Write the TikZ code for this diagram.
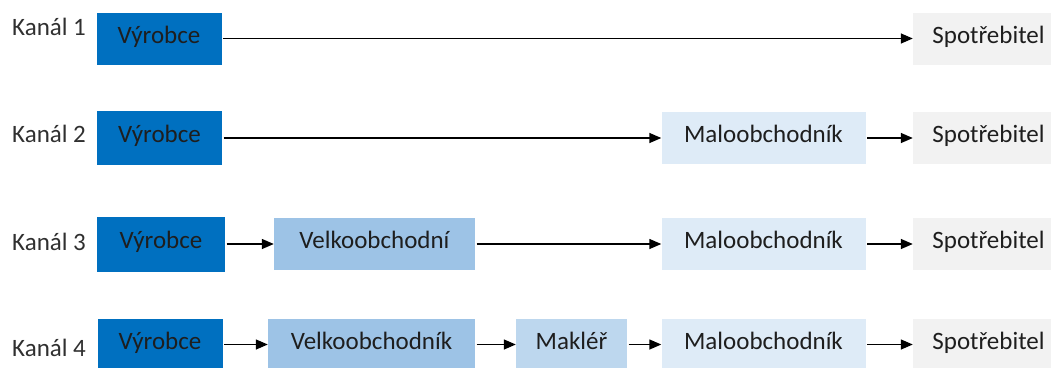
\documentclass[tikz,border=0pt]{standalone}
\usepackage{fontspec}
\setmainfont{Carlito}
\usetikzlibrary{arrows.meta}
\definecolor{prodblue}{HTML}{0070C0}
\definecolor{wholeblue}{HTML}{9DC3E6}
\definecolor{brokerblue}{HTML}{BDD7EE}
\definecolor{retailblue}{HTML}{DEEBF7}
\definecolor{consgray}{HTML}{F2F2F2}
\definecolor{txt}{HTML}{1E1E1E}
\definecolor{lbl}{HTML}{303030}
\tikzset{
  box/.style={rectangle, inner sep=0pt, minimum height=52pt, text height=17pt, text depth=8pt,
    font=\fontsize{25}{28}\selectfont, text=txt},
  producer/.style={box, fill=prodblue, minimum width=125pt},
  wholesaler/.style={box, fill=wholeblue},
  broker/.style={box, fill=brokerblue, minimum width=111pt},
  retailer/.style={box, fill=retailblue, minimum width=204pt},
  consumer/.style={box, fill=consgray, minimum width=151pt},
  chan/.style={anchor=base west, inner sep=0pt, font=\fontsize{25}{28}\selectfont, text=lbl},
  flow/.style={line width=1.4pt, -{Triangle[length=12pt,width=10pt]}, shorten <=1.5pt}
}
\begin{document}
\begin{tikzpicture}[x=1pt,y=-1pt]
\useasboundingbox (0,0) rectangle (1051,367);
\clip (0,0) rectangle (1051,367);

% Kanál 1
\node[chan] (k1) at (12,35.5) {Kanál 1};
\node[producer] (v1) at (159,38.5) {Výrobce};
\node[consumer] (s1) at (988.5,38.5) {Spotřebitel};
\draw[flow] (v1) -- (s1);

% Kanál 2
\node[chan] (k2) at (12,142.5) {Kanál 2};
\node[producer, minimum height=54pt] (v2) at (159.5,138) {Výrobce};
\node[retailer] (m2) at (763.5,138) {Maloobchodník};
\node[consumer] (s2) at (988.5,138) {Spotřebitel};
\draw[flow] (v2) -- (m2);
\draw[flow] (m2) -- (s2);

% Kanál 3
\node[chan] (k3) at (12,250) {Kanál 3};
\node[producer, minimum height=55pt, minimum width=128pt] (v3) at (161,244) {Výrobce};
\node[wholesaler, minimum width=201pt] (w3) at (374.5,244) {Velkoobchodní};
\node[retailer] (m3) at (763.5,244) {Maloobchodník};
\node[consumer] (s3) at (988.5,244) {Spotřebitel};
\draw[flow] (v3) -- (w3);
\draw[flow] (w3) -- (m3);
\draw[flow] (m3) -- (s3);

% Kanál 4
\node[chan] (k4) at (12,356) {Kanál 4};
\node[producer] (v4) at (160,344.5) {Výrobce};
\node[wholesaler, minimum width=207pt] (w4) at (371.5,344.5) {Velkoobchodník};
\node[broker] (b4) at (571.5,344.5) {Makléř};
\node[retailer] (m4) at (763.5,344.5) {Maloobchodník};
\node[consumer] (s4) at (988.5,344.5) {Spotřebitel};
\draw[flow] (v4) -- (w4);
\draw[flow] (w4) -- (b4);
\draw[flow] (b4) -- (m4);
\draw[flow] (m4) -- (s4);
\end{tikzpicture}
\end{document}
